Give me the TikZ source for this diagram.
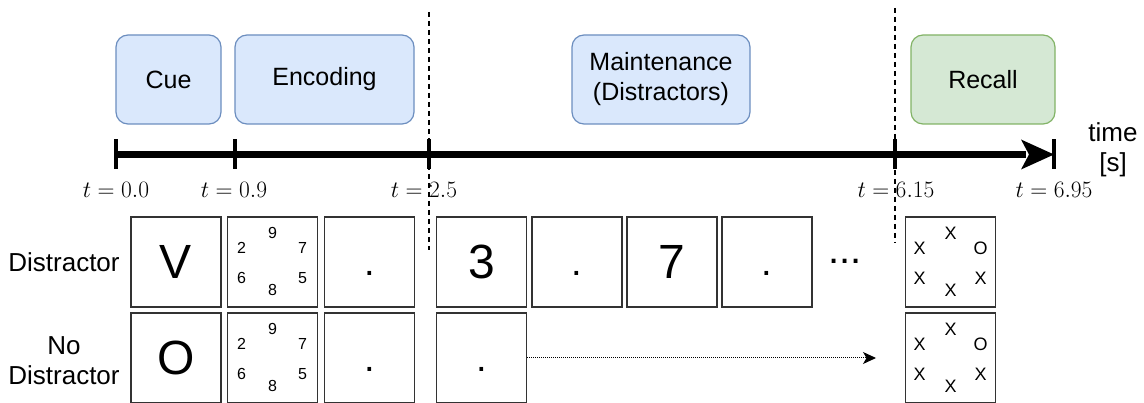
\documentclass[tikz,border=0pt]{standalone}
\usepackage{fix-cm}
\usepackage{fontspec}
\newfontfamily\arialish{Liberation Sans}
\usetikzlibrary{arrows.meta}
\definecolor{phasefill}{HTML}{DAE8FC}
\definecolor{phaseline}{HTML}{6C8EBF}
\definecolor{recallfill}{HTML}{D5E8D4}
\definecolor{recallline}{HTML}{82B366}
\definecolor{framegray}{HTML}{333333}
\tikzset{
  phase/.style={draw=phaseline, fill=phasefill, line width=1.2pt, rounded corners=12pt,
    minimum height=89pt, inner sep=0pt, align=center,
    font=\arialish\fontsize{25}{30}\selectfont},
  recallphase/.style={phase, draw=recallline, fill=recallfill},
  axisline/.style={line width=7.5pt},
  tickmark/.style={line width=4pt},
  splitline/.style={line width=1.2pt, dash pattern=on 5pt off 4pt},
  timelabel/.style={anchor=base, inner sep=0pt, font=\fontsize{23.5}{28}\selectfont},
  rowlabel/.style={align=center, inner sep=0pt, font=\arialish\fontsize{26}{30}\selectfont},
  screen/.style={draw=framegray, line width=1.6pt, minimum size=90pt, inner sep=0pt},
  bigglyph/.style={inner sep=0pt, font=\arialish\fontsize{48}{52}\selectfont},
  fixdot/.style={anchor=base, inner sep=0pt, font=\arialish\fontsize{38}{42}\selectfont},
  digit/.style={inner sep=0pt, font=\arialish\fontsize{16}{18}\selectfont},
  probe/.style={inner sep=0pt, font=\arialish\fontsize{18}{20}\selectfont},
  waitarrow/.style={line width=1pt, dash pattern=on 1pt off 1pt,
    -{Stealth[length=13pt,width=12pt,inset=3.5pt]}}
}
% six positions around a circle inside a screen: #1 = screen name, #2..#7 = symbols
\newcommand{\ringsix}[8]{%
  \node[#8] at ([shift={(0,-29)}]#1.center) {#2};
  \node[#8] at ([shift={(-31,-14)}]#1.center) {#3};
  \node[#8] at ([shift={(30,-14)}]#1.center) {#4};
  \node[#8] at ([shift={(-31,16)}]#1.center) {#5};
  \node[#8] at ([shift={(30,16)}]#1.center) {#6};
  \node[#8] at ([shift={(0,28)}]#1.center) {#7};
}
\begin{document}
\begin{tikzpicture}[x=1pt, y=-1pt]
\useasboundingbox (0,0) rectangle (1144,403);

% trial phases
\node[phase, minimum width=105pt] (cue) at (168.5,79.5) {Cue};
\node[phase, minimum width=179pt] (enc) at (324.5,79.5) {Encoding};
\node[phase, minimum width=178pt] (maint) at (661,79.5) {Maintenance\\(Distractors)};
\node[recallphase, minimum width=144pt] (recall) at (983,79.5) {Recall};

% time axis
\coordinate (t0) at (116,154.5);
\coordinate (t1) at (235,154.5);
\coordinate (t2) at (429,154.5);
\coordinate (t3) at (895,154.5);
\coordinate (t4) at (1054,154.5);
\draw[axisline] (t0) -- ([xshift=-28pt]t4);
\fill (t4) -- ([shift={(-33,-15)}]t4) -- ([shift={(-25,0)}]t4) -- ([shift={(-33,15)}]t4) -- cycle;
\foreach \t in {t0,t1,t2,t3,t4}
  \draw[tickmark] ([yshift=15pt]\t) -- ([yshift=-15pt]\t);
\node[rowlabel] (unit) at (1113,150) {time\\{[s]}};

% phase boundaries
\coordinate (d1top) at (429,12);
\coordinate (d1bot) at (429,250);
\coordinate (d2top) at (895,8);
\coordinate (d2bot) at (895,243);
\draw[splitline] (d1top) -- (d1bot);
\draw[splitline] (d2top) -- (d2bot);

% time stamps
\node[timelabel] (l0) at (116,198) {$t = 0.0$};
\node[timelabel] (l1) at (234,198) {$t = 0.9$};
\node[timelabel] (l2) at (424,198) {$t = 2.5$};
\node[timelabel] (l3) at (896,198) {$t = 6.15$};
\node[timelabel] (l4) at (1054,198) {$t = 6.95$};

% condition labels
\node[rowlabel] (rowa) at (64,262) {Distractor};
\node[rowlabel] (rowb) at (64,361) {No\\Distractor};

% distractor condition
\node[screen] (a1) at (176,262) {};
\node[screen] (a2) at (272.5,262) {};
\node[screen] (a3) at (369.5,262) {};
\node[screen] (a4) at (481.5,262) {};
\node[screen] (a5) at (577,262) {};
\node[screen] (a6) at (672,262) {};
\node[screen] (a7) at (767,262) {};
\node[screen] (a8) at (950.5,262) {};
\node[bigglyph] at (a1) {V};
\ringsix{a2}{9}{2}{7}{6}{5}{8}{digit}
\node[fixdot] at ([yshift=-14pt]a3.center) {.};
\node[bigglyph] at (a4) {3};
\node[fixdot] at ([yshift=-14pt]a5.center) {.};
\node[bigglyph] at (a6) {7};
\node[fixdot] at ([yshift=-14pt]a7.center) {.};
\node[anchor=base, inner sep=0pt, font=\arialish\fontsize{40}{44}\selectfont] (more) at (845,264) {...};
\ringsix{a8}{X}{X}{O}{X}{X}{X}{probe}

% no-distractor condition
\node[screen] (b1) at (176,358) {};
\node[screen] (b2) at (272.5,358) {};
\node[screen] (b3) at (369.5,358) {};
\node[screen] (b4) at (481.5,358) {};
\node[screen] (b8) at (950.5,358) {};
\node[bigglyph] at (b1) {O};
\ringsix{b2}{9}{2}{7}{6}{5}{8}{digit}
\node[fixdot] at ([yshift=-14pt]b3.center) {.};
\node[fixdot] at ([yshift=-14pt]b4.center) {.};
\ringsix{b8}{X}{X}{O}{X}{X}{X}{probe}
\coordinate (waitend) at (876,358);
\draw[waitarrow] (b4.east) -- (waitend);
\end{tikzpicture}
\end{document}
